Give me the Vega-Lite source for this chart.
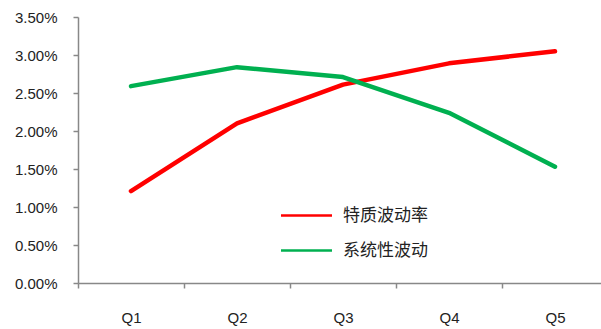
{
  "$schema": "https://vega.github.io/schema/vega-lite/v6.json",
  "width": 530,
  "height": 266,
  "autosize": {"type": "none"},
  "padding": {"left": 78, "top": 17, "right": 0, "bottom": 46},
  "background": "white",
  "config": {"view": {"stroke": null}},
  "data": {
    "values": [
      {"q": "Q1", "series": "特质波动率", "v": 0.0121},
      {"q": "Q2", "series": "特质波动率", "v": 0.0210},
      {"q": "Q3", "series": "特质波动率", "v": 0.0261},
      {"q": "Q4", "series": "特质波动率", "v": 0.0289},
      {"q": "Q5", "series": "特质波动率", "v": 0.0305},
      {"q": "Q1", "series": "系统性波动", "v": 0.0259},
      {"q": "Q2", "series": "系统性波动", "v": 0.0284},
      {"q": "Q3", "series": "系统性波动", "v": 0.0271},
      {"q": "Q4", "series": "系统性波动", "v": 0.0224},
      {"q": "Q5", "series": "系统性波动", "v": 0.0153}
    ]
  },
  "mark": {"type": "line", "strokeCap": "round", "strokeJoin": "round"},
  "encoding": {
    "strokeWidth": {"value": 4.5},
    "x": {
      "field": "q", "type": "nominal", "title": null,
      "scale": {"type": "band", "paddingInner": 0, "paddingOuter": 0},
      "axis": {"tickBand": "extent", "labelAngle": 0, "domainColor": "#888888", "tickColor": "#888888", "domainWidth": 1.5, "tickWidth": 1.5, "tickSize": 5, "labelFont": "Liberation Sans", "labelFontSize": 15, "labelColor": "#222222", "labelPadding": 22, "grid": false}
    },
    "y": {
      "field": "v", "type": "quantitative", "title": null,
      "scale": {"domain": [0, 0.035], "nice": false, "zero": true},
      "axis": {"values": [0, 0.005, 0.01, 0.015, 0.02, 0.025, 0.03, 0.035], "format": ".2%", "grid": false, "domainColor": "#888888", "tickColor": "#888888", "domainWidth": 1.5, "tickWidth": 1.5, "tickSize": 5, "labelFont": "Liberation Sans", "labelFontSize": 15, "labelColor": "#222222", "labelPadding": 16}
    },
    "color": {
      "field": "series", "type": "nominal",
      "scale": {"domain": ["特质波动率", "系统性波动"], "range": ["#ff0000", "#00b050"]},
      "legend": {"title": null, "orient": "none", "legendX": 220, "legendY": 190, "symbolType": "M-5,0H5", "symbolSize": 104, "symbolStrokeWidth": 2.5, "labelFont": "Noto Sans CJK SC", "labelFontSize": 17, "labelColor": "#222222", "labelOffset": 28, "rowPadding": 17, "symbolOffset": 0}
    }
  }
}
